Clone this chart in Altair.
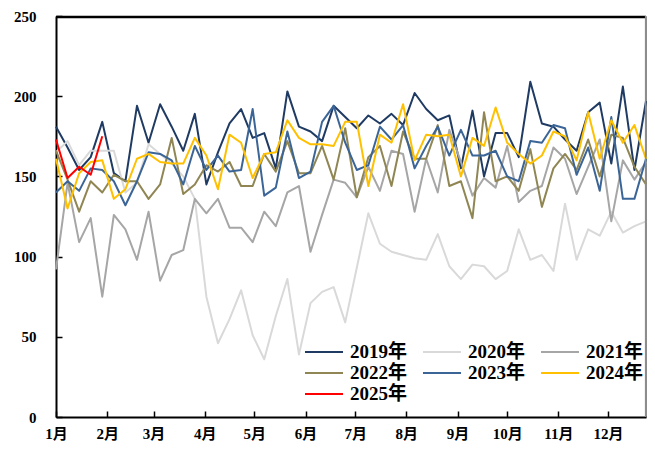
import json
import altair as alt
import pandas as pd

years = ["2019年", "2020年", "2021年", "2022年", "2023年", "2024年", "2025年"]
colors = ["#1f3b63", "#d9d9d9", "#a6a6a6", "#8f8654", "#3b6597", "#ffc000", "#ff0000"]
widths = [2, 2, 2, 2, 2, 3.2, 3.2]

y2019 = [181, 168, 154, 162, 184, 152, 147, 194, 171, 195, 181, 166, 189, 145, 165, 183, 192, 174, 177, 155,
         203, 181, 178, 172, 194, 187, 180, 188, 183, 189, 182, 202, 192, 185, 188, 155, 191, 150, 177, 177,
         162, 209, 183, 181, 173, 166, 190, 196, 158, 206, 154, 197]
y2020 = [165, 172, 157, 166, 166, 166, 140, 146, 170, 164, 158, 150, 136, 75, 46, 61, 79, 51, 36, 63,
         86, 39, 71, 78, 81, 59, 93, 127, 108, 103, 101, 99, 98, 114, 94, 86, 95, 94, 86, 91,
         117, 98, 101, 91, 133, 98, 117, 113, 128, 115, 119, 122]
y2021 = [92, 146, 109, 124, 75, 126, 117, 98, 128, 85, 101, 104, 136, 127, 136, 118, 118, 109, 128, 119,
         140, 144, 103, 126, 148, 146, 137, 156, 141, 166, 164, 128, 161, 140, 179, 159, 138, 149, 143, 169,
         134, 141, 144, 168, 161, 139, 156, 173, 122, 160, 148, 159]
y2022 = [166, 148, 128, 147, 140, 151, 147, 147, 136, 145, 174, 139, 145, 157, 153, 159, 144, 144, 164, 153,
         172, 152, 152, 169, 148, 180, 137, 162, 169, 144, 178, 161, 161, 182, 144, 147, 124, 190, 147, 150,
         141, 167, 131, 155, 164, 154, 173, 150, 176, 174, 156, 145]
y2023 = [140, 147, 141, 155, 154, 147, 132, 147, 165, 164, 160, 145, 169, 154, 163, 153, 154, 192, 138, 143,
         178, 149, 153, 184, 194, 171, 154, 157, 181, 173, 182, 155, 169, 181, 163, 179, 163, 163, 166, 150,
         147, 172, 171, 182, 180, 151, 168, 141, 187, 136, 136, 161]
y2024 = [161, 130, 152, 159, 160, 136, 142, 161, 164, 159, 158, 158, 174, 163, 142, 176, 171, 149, 164, 165,
         185, 174, 170, 170, 169, 184, 184, 144, 176, 171, 195, 160, 176, 175, 176, 150, 174, 169, 193, 171,
         164, 158, 163, 178, 175, 160, 190, 161, 185, 171, 182, 161]
y2025 = [173, 149, 156, 151, 175]

month_labels = ["1月", "2月", "3月", "4月", "5月", "6月", "7月", "8月", "9月", "10月", "11月", "12月"]
month_start_day = [0, 31, 59, 90, 120, 151, 181, 212, 243, 273, 304, 334]
y_ticks = [0, 50, 100, 150, 200, 250]

series = [y2019, y2020, y2021, y2022, y2023, y2024, y2025]
rows = []
for name, vals in zip(years, series):
    for i, v in enumerate(vals):
        rows.append({"week": i, "value": v, "year": name})
df = pd.DataFrame(rows)

tick_vals = [d / 7 for d in month_start_day]
label_expr = json.dumps(month_labels, ensure_ascii=False) + "[round(datum.value*7/30.4)]"

FONT = "Liberation Serif, Noto Sans CJK SC"
W, H = 590, 401

legend = alt.Legend(
    title=None, orient="none", legendX=257, legendY=325, columns=3, direction="horizontal",
    symbolType="M-1.9,0H1.9", symbolSize=400, labelFont=FONT, labelFontSize=19,
    labelFontWeight="bold", labelColor="black", labelOffset=15,
    columnPadding=11, rowPadding=0, padding=0, labelLimit=200,
)

lines = alt.Chart(df).mark_line(strokeJoin="round").encode(
    x=alt.X("week:Q", scale=alt.Scale(domain=[0, 51], nice=False, zero=False),
            axis=alt.Axis(values=tick_vals, labelExpr=label_expr, title=None, ticks=False, tickSize=0,
                          domainColor="black", domainWidth=2, labelFont=FONT, labelFontSize=15,
                          labelFontWeight="bold", labelColor="black", labelPadding=9, grid=False,
                          labelFlush=False)),
    y=alt.Y("value:Q", scale=alt.Scale(domain=[0, 250], nice=False),
            axis=alt.Axis(values=y_ticks, title=None, ticks=False, tickSize=0, domainColor="black",
                          domainWidth=2, labelFont=FONT, labelFontSize=15, labelFontWeight="bold",
                          labelColor="black", labelPadding=20, grid=False)),
    color=alt.Color("year:N", scale=alt.Scale(domain=years, range=colors), legend=legend),
    strokeWidth=alt.StrokeWidth("year:N", scale=alt.Scale(domain=years, range=widths), legend=legend),
)

tick_layer = alt.Chart(df).mark_line(opacity=0).encode(
    x=alt.X("week:Q", axis=alt.Axis(orient="top", offset=-H, values=tick_vals, labels=False, domain=False,
                                    tickSize=6, tickColor="black", tickWidth=1.5, title=None, grid=False)),
    y=alt.Y("value:Q", axis=alt.Axis(orient="right", offset=-W, values=y_ticks, labels=False, domain=False,
                                     tickSize=6, tickColor="black", tickWidth=1.5, title=None, grid=False)),
    detail="year:N",
)

frame_df = pd.DataFrame({"k": [0]})
top_border = alt.Chart(frame_df).mark_rule(color="#000000", strokeWidth=2.5, opacity=1).encode(
    x=alt.value(0), x2=alt.value(W), y=alt.value(1))
right_border = alt.Chart(frame_df).mark_rule(color="#8c8c8c", strokeWidth=1.2, opacity=1).encode(
    x=alt.value(W - 0.5), y=alt.value(0), y2=alt.value(H))

chart = alt.layer(lines, tick_layer, top_border, right_border).resolve_axis(
    x="independent", y="independent").properties(
    width=W, height=H,
    autosize=alt.AutoSizeParams(type="none"),
    padding={"left": 48, "top": 8, "right": 1, "bottom": 26},
).configure_view(stroke="#8c8c8c", strokeWidth=1)

chart.save("out.html", embed_options={"renderer": "svg", "actions": False})
